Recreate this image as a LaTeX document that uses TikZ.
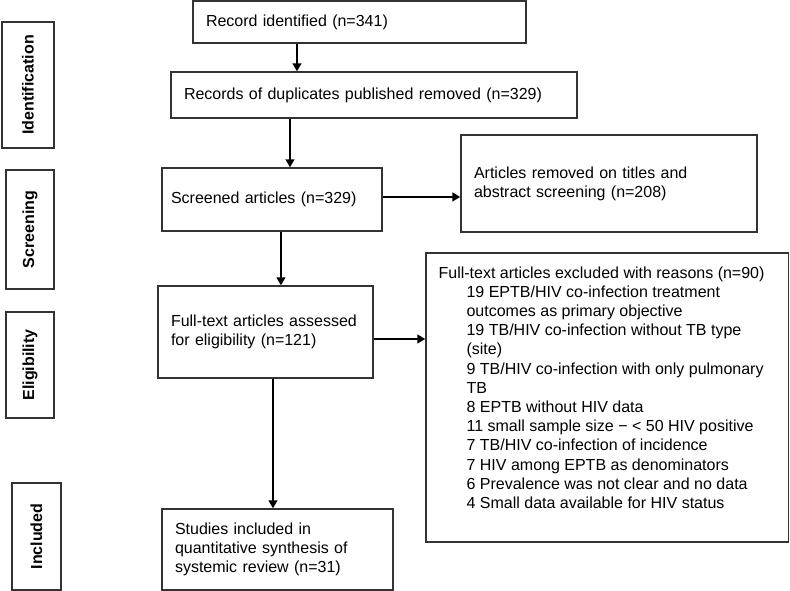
\documentclass[tikz,border=0pt]{standalone}
\usepackage{fontspec}
\setmainfont{Liberation Sans}
\usetikzlibrary{arrows.meta}
\newcommand{\reasonindent}{\hspace*{21pt}}
\tikzset{
  flowbox/.style={draw=black!80, line width=1pt, inner xsep=9.75pt, inner ysep=0pt, align=left, font=\fontsize{12}{14.4}\selectfont},
  stagebox/.style={draw=black!80, line width=1pt, inner sep=0pt, font=\fontsize{12}{14.4}\selectfont\bfseries},
  flowarrow/.style={line width=1.9pt, -{Triangle[length=6pt,width=6.5pt]}}
}

\begin{document}
\begin{tikzpicture}[x=0.75pt,y=-0.75pt]
\useasboundingbox (0,0) rectangle (790,591);
\node[stagebox, minimum width=39pt, minimum height=94.5pt] (idLbl) at (28,85) {\rotatebox{90}{Identification}};
\node[stagebox, minimum width=36pt, minimum height=89.25pt] (scrLbl) at (30,229.5) {\rotatebox{90}{Screening}};
\node[stagebox, minimum width=36pt, minimum height=79.5pt] (eliLbl) at (30,365) {\rotatebox{90}{Eligibility}};
\node[stagebox, minimum width=36.75pt, minimum height=80.25pt] (incLbl) at (36.5,536.5) {\rotatebox{90}{Included}};
\node[flowbox, minimum width=249.75pt, minimum height=31.5pt, text width=230.25pt] (rec) at (359.5,22) {Record identified (n=341)};
\node[flowbox, minimum width=304.5pt, minimum height=34.5pt, text width=285pt] (dup) at (374,95) {Records of duplicates published removed (n=329)};
\node[flowbox, inner xsep=6.75pt, minimum width=165pt, minimum height=47.25pt, text width=151.5pt] (scr) at (272,199.5) {Screened articles (n=329)};
\node[flowbox, minimum width=222pt, minimum height=72.75pt, text width=202.5pt] (rem) at (609,183.5) {Articles removed on titles and\\abstract screening (n=208)};
\node[flowbox, minimum width=161.25pt, minimum height=69pt, text width=141.75pt] (full) at (265.5,332) {Full-text articles assessed\\for eligibility (n=121)};
\node[flowbox, minimum width=271.9pt, minimum height=216.75pt] (excl) at (607.25,397.5) {};
\node[anchor=north west, inner sep=0pt, align=left, font=\fontsize{12}{14.4}\selectfont] (exclTxt) at ([xshift=9.75pt,yshift=-10.5pt]excl.north west) {Full-text articles excluded with reasons (n=90)\\
\reasonindent 19 EPTB/HIV co-infection treatment\\
\reasonindent outcomes as primary objective\\
\reasonindent 19 TB/HIV co-infection without TB type\\
\reasonindent (site)\\
\reasonindent 9 TB/HIV co-infection with only pulmonary\\
\reasonindent TB\\
\reasonindent 8 EPTB without HIV data\\
\reasonindent 11 small sample size − < 50 HIV positive\\
\reasonindent 7 TB/HIV co-infection of incidence\\
\reasonindent 7 HIV among EPTB as denominators\\
\reasonindent 6 Prevalence was not clear and no data\\
\reasonindent 4 Small data available for HIV status};
\node[flowbox, minimum width=173.25pt, minimum height=60.75pt, text width=153.75pt] (stud) at (277.5,549.5) {Studies included in\\quantitative synthesis of\\systemic review (n=31)};
\draw[flowarrow] ([xshift=-46.9pt]rec.south) -- ([xshift=-46.9pt]rec.south |- dup.north);
\draw[flowarrow] ([xshift=13.5pt]scr.north |- dup.south) -- ([xshift=13.5pt]scr.north);
\draw[flowarrow] ([xshift=11.6pt]full.north |- scr.south) -- ([xshift=11.6pt]full.north);
\draw[flowarrow] ([xshift=-3.4pt]stud.north |- full.south) -- ([xshift=-3.4pt]stud.north);
\draw[flowarrow] ([yshift=1.9pt]scr.east) -- ([yshift=1.9pt]scr.east -| rem.west);
\draw[flowarrow] ([yshift=-5.25pt]full.east) -- ([yshift=-5.25pt]full.east -| excl.west);
\end{tikzpicture}
\end{document}
